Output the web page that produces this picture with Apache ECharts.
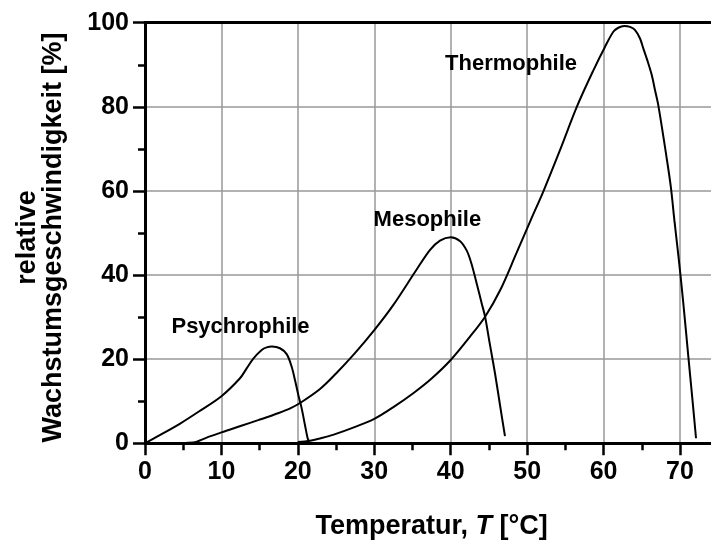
<!DOCTYPE html>
<html>
<head>
<meta charset="utf-8">
<script src="https://cdn.jsdelivr.net/npm/echarts@6/dist/echarts.min.js"></script>
<style>html,body{margin:0;padding:0;background:#fff}#c{width:711px;height:542px}</style>
</head>
<body>
<div id="c"></div>
<script>
// Data (temperature °C, relative growth rate %)
var psychrophile = [[0,0],[2,2],[4.6,4.7],[7,7.5],[10,11.2],[12.4,15.4],[13.3,17.8],[14.2,20.2],[15.27,22.2],[15.92,22.8],[16.6,23],[17.66,22.6],[18.54,21.2],[19.19,18.2],[19.63,15.0],[20.06,11.5],[20.5,8.3],[20.93,4.35],[21.28,1.2],[21.46,0.4]];
var mesophile = [[3,0],[6.3,0.2],[8,1.3],[10,2.6],[12.5,4.1],[14.8,5.5],[17.5,7.2],[19,8.3],[20.4,9.7],[22.9,12.9],[25,16.6],[27.5,21.5],[30,26.9],[32.5,32.9],[35.5,41.2],[37.3,46],[38.6,48.2],[40,49],[41.2,48.1],[42.1,45.8],[42.7,42.8],[43.4,38],[44.05,33.3],[44.5,30.1],[45.1,23.8],[45.8,16.6],[46.45,9.1],[47.1,1.7]];
var thermophile = [[20,0.3],[21.6,0.6],[23,1.2],[24.6,2.0],[27.5,3.9],[30,5.8],[32.5,8.6],[35.1,11.9],[37.5,15.4],[40,19.8],[42.5,25.3],[44.5,30.1],[46.5,36.5],[48.6,45.2],[50.5,53.2],[52.1,59.8],[54.3,69.7],[56.5,80],[58.7,88.8],[60.2,94.3],[61.3,97.9],[61.93,98.8],[62.7,99.2],[63.46,99.0],[64.1,98.3],[64.76,96.3],[65.2,93.9],[65.72,91.1],[66.3,87.6],[66.73,84.0],[67.2,80],[68.2,68.5],[68.8,61],[69.3,52.5],[69.8,44.5],[70.4,34],[71.1,20.5],[71.6,11],[72.1,1.2]];
var curveNames = ['Psychrophile','Mesophile','Thermophile'];
var annotationPos = [[12.5,27.6],[36.95,53.1],[47.9,90.2]];
var xTicks = {min:0, max:80, interval:10};
var yTicks = {min:0, max:100, interval:20};
var xTitle = 'Temperatur, ';
var xTitleItalic = 'T';
var xTitleEnd = ' [°C]';
var yTitle = 'relative\nWachstumsgeschwindigkeit [%]';

var FONT = "'Liberation Sans', Arial, sans-serif";
var chart = echarts.init(document.getElementById('c'), null, {renderer:'canvas'});
function lineSeries(data){
  return {type:'line', data:data, xAxisIndex:0, yAxisIndex:0, showSymbol:false, symbol:'none',
    smooth:0.33, lineStyle:{color:'#000', width:2}, z:5, silent:true};
}
var annData = annotationPos.map(function(p,i){return {name:curveNames[i], value:p};});
chart.setOption({
  animation:false,
  backgroundColor:'#fff',
  grid:{left:145, top:22.7, height:420.6, width:611.4, containLabel:false, outerBoundsMode:'none'},
  xAxis:[{
    type:'value', min:xTicks.min, max:xTicks.max, interval:xTicks.interval, position:'bottom',
    name:'{b|'+xTitle+'}{i|'+xTitleItalic+'}{b|'+xTitleEnd+'}',
    nameLocation:'middle', nameGap:70,
    nameTextStyle:{padding:[0,38,0,0], rich:{
      b:{fontFamily:FONT, fontWeight:'bold', fontSize:27, color:'#000'},
      i:{fontFamily:FONT, fontWeight:'bold', fontStyle:'italic', fontSize:27, color:'#000'}}},
    axisLine:{show:true, onZero:false, lineStyle:{color:'#000', width:3}},
    axisTick:{show:true, inside:false, length:12, lineStyle:{color:'#000', width:2.5}},
    minorTick:{show:true, splitNumber:2, length:7, lineStyle:{color:'#000', width:2.5}},
    axisLabel:{show:true, margin:16, fontFamily:FONT, fontWeight:'bold', fontSize:25, color:'#000', showMaxLabel:false},
    splitLine:{show:true, lineStyle:{color:'#999', width:1.5}}
  },{
    type:'value', min:xTicks.min, max:xTicks.max, position:'top',
    axisLine:{show:true, onZero:false, lineStyle:{color:'#000', width:3}},
    axisTick:{show:false}, axisLabel:{show:false}, splitLine:{show:false}
  }],
  yAxis:{
    type:'value', min:yTicks.min, max:yTicks.max, interval:yTicks.interval,
    name:yTitle, nameLocation:'middle', nameGap:78, nameRotate:90,
    nameTextStyle:{fontFamily:FONT, fontWeight:'bold', fontSize:27, lineHeight:26, color:'#000', align:'center', padding:[0,9,0,0]},
    axisLine:{show:true, onZero:false, lineStyle:{color:'#000', width:3}},
    axisTick:{show:true, inside:false, length:12, lineStyle:{color:'#000', width:2.5}},
    minorTick:{show:true, splitNumber:2, length:7, lineStyle:{color:'#000', width:2.5}},
    axisLabel:{show:true, margin:16, fontFamily:FONT, fontWeight:'bold', fontSize:25, color:'#000'},
    splitLine:{show:true, lineStyle:{color:'#999', width:1.5}}
  },
  series:[
    lineSeries(psychrophile),
    lineSeries(mesophile),
    lineSeries(thermophile),
    {type:'scatter', data:annData, symbolSize:1, silent:true, z:6,
     itemStyle:{opacity:0},
     label:{show:true, position:'inside', formatter:function(p){return p.name;}, opacity:1,
       fontFamily:FONT, fontWeight:'bold', fontSize:22, color:'#000', textBorderWidth:0}}
  ]
});
</script>
</body>
</html>
